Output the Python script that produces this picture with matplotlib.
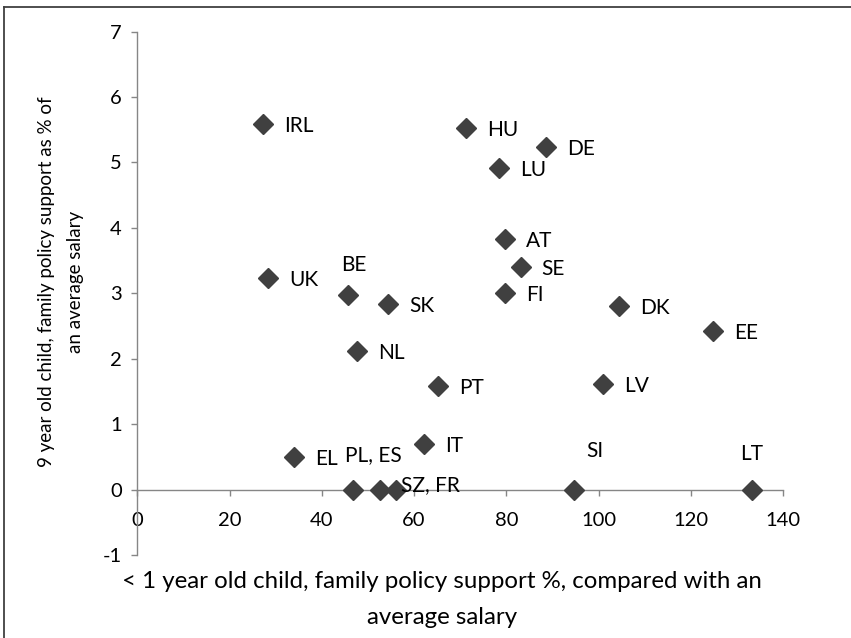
import matplotlib
matplotlib.use("Agg")
import matplotlib.pyplot as plt
from matplotlib.lines import Line2D

plt.rcParams['font.family'] = ['Lato', 'DejaVu Sans']

countries = ["IRL", "HU", "DE", "LU", "AT", "SE", "FI", "DK", "EE", "UK", "BE", "SK",
             "NL", "PT", "LV", "IT", "EL", "PL", "ES", "SZ", "SI", "LT"]
under1_support = [27.3, 71.2, 88.7, 78.4, 79.7, 83.1, 79.8, 104.4, 124.8, 28.4, 45.7, 54.4,
                  47.7, 65.2, 101.0, 62.2, 34.0, 46.7, 52.6, 56.1, 94.7, 133.3]
age9_support = [5.59, 5.53, 5.23, 4.92, 3.83, 3.40, 3.01, 2.81, 2.43, 3.23, 2.98, 2.83,
                2.11, 1.58, 1.62, 0.69, 0.49, 0.0, 0.0, 0.0, 0.0, 0.0]
point_labels = ["IRL", "HU", "DE", "LU", "AT", "SE", "FI", "DK", "EE", "UK", "BE", "SK",
                "NL", "PT", "LV", "IT", "EL", "", "PL, ES", "SZ, FR", "SI", "LT"]
x_ticks = [0, 20, 40, 60, 80, 100, 120, 140]
y_ticks = [-1, 0, 1, 2, 3, 4, 5, 6, 7]
x_title_lines = ["< 1 year old child, family policy support %, compared with an", "average salary"]
y_title_lines = ["9 year old child, family policy support as % of", "an average salary"]

W, H = 851, 638
# label placement (pixel offsets, alignment)
PX = 0.72
default_off = (21, -2, 'left')
special_off = {"BE": (6, 30, 'center'), "PL, ES": (-7, 34, 'center'),
               "SZ, FR": (5, 4, 'left'), "SI": (21, 39, 'center'), "LT": (0, 36, 'center')}

fig = plt.figure(figsize=(W / 100, H / 100), dpi=100)
ax = fig.add_axes([0.1613, 0.1301, 0.7588, 0.8205])

ax.plot(under1_support, age9_support, linestyle='none', marker='D', markersize=10.5,
        color='#404040', zorder=3, clip_on=False)

for x, y, lab in zip(under1_support, age9_support, point_labels):
    if not lab:
        continue
    dx, dy, ha = special_off.get(lab, default_off)
    ax.annotate(lab, (x, y), xytext=(dx * PX, dy * PX), textcoords='offset points',
                ha=ha, va='center', fontsize=15, color='#000000', zorder=4)

ax.set_xlim(0, 140)
ax.set_ylim(-1, 7)
ax.set_xticks(x_ticks)
ax.set_yticks(y_ticks)
ax.set_xticklabels([str(v) for v in x_ticks])
ax.set_yticklabels([str(v) for v in y_ticks])

for s in ['top', 'right']:
    ax.spines[s].set_visible(False)
ax.spines['bottom'].set_position(('data', 0))
ax.spines['left'].set_position(('data', 0))
for s in ['bottom', 'left']:
    ax.spines[s].set_color('#868686')
    ax.spines[s].set_linewidth(1.0)
ax.tick_params(axis='both', direction='out', length=4, width=1.0, color='#868686',
               labelsize=14.5, labelcolor='#000000')
ax.tick_params(axis='x', pad=12)
ax.tick_params(axis='y', pad=7)

# axis titles (two centred lines each)
for line, yp in zip(x_title_lines, [582, 618]):
    fig.text(442 / W, 1 - yp / H, line, ha='center', va='center', fontsize=17.3)
for line, xp in zip(y_title_lines, [47, 75]):
    fig.text(xp / W, 1 - 282 / H, line, ha='center', va='center', rotation=90, fontsize=13.5)

# figure frame lines (top and left)
fig.add_artist(Line2D([3.5 / W, 1.0], [1 - 7 / H, 1 - 7 / H], transform=fig.transFigure,
                      color='#404040', linewidth=1.3))
fig.add_artist(Line2D([3.5 / W, 3.5 / W], [0, 1 - 7 / H], transform=fig.transFigure,
                      color='#404040', linewidth=1.3))

fig.savefig("out.png", dpi=100)
